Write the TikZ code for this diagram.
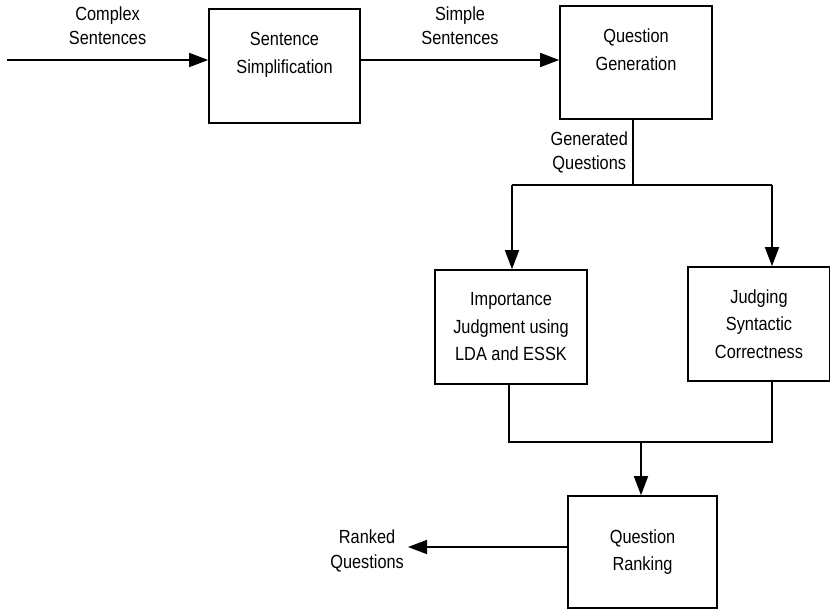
\documentclass[tikz,border=0pt]{standalone}
\usepackage{fontspec}
\setmainfont[FakeStretch=0.86]{Liberation Sans}
\usepackage{tikz}
\usetikzlibrary{arrows.meta,positioning}

\tikzset{
  every stage/.style={draw, line width=1.6pt, align=center,
    font=\fontsize{19}{27.5}\selectfont},
  flow label/.style={align=center, font=\fontsize{19}{24.5}\selectfont}
}

\begin{document}
\begin{tikzpicture}[x=1pt, y=-1pt, line width=1.6pt,
  >={Triangle[length=19pt, width=14pt]}]

\useasboundingbox (0,0) rectangle (830,612);

% stages
\node [every stage/.try, minimum width=151pt, minimum height=114pt, text depth=26pt]
  (simplify) at (284.5,66) {Sentence\\Simplification};
\node [every stage/.try, minimum width=152pt, minimum height=113pt, text depth=26pt]
  (generate) at (636,62.5) {Question\\Generation};
\node [every stage/.try, minimum width=152pt, minimum height=114pt]
  (importance) at (511,327) {Importance\\Judgment using\\LDA and ESSK};
\node [every stage/.try, minimum width=142pt, minimum height=114pt]
  (syntax) at (759,324) {Judging\\Syntactic\\Correctness};
\node [every stage/.try, minimum width=149pt, minimum height=112pt]
  (rank) at (642.5,552) {Question\\Ranking};

% free ends and branch points
\coordinate (in) at (7,60);
\coordinate (out) at (408,547);
\coordinate (fork) at (633,185);
\coordinate (fork-l) at (512,185);
\coordinate (fork-r) at (772,185);
\coordinate (merge) at (641,442);
\coordinate (merge-l) at (509,442);
\coordinate (merge-r) at (772,442);

\draw [->] (in) -- (in -| simplify.west)
  node [flow label, above=11pt, midway] {Complex\\Sentences};
\draw [->] (simplify.east |- in) -- (in -| generate.west)
  node [flow label, above=11pt, midway] {Simple\\Sentences};

\draw (fork |- generate.south) -- (fork)
  node [flow label, left=1pt, midway] {Generated\\Questions};
\draw (fork-l) -- (fork-r);
\draw [->] (fork-l) -- (fork-l |- importance.north);
\draw [->] (fork-r) -- (fork-r |- syntax.north);

\draw (merge-l |- importance.south) -- (merge-l) -- (merge-r)
  -- (merge-r |- syntax.south);
\draw [->] (merge) -- (merge |- rank.north);

\draw [->] (rank.west |- out) -- (out)
  node [flow label, left=0pt, yshift=-4pt] {Ranked\\Questions};

\end{tikzpicture}
\end{document}
